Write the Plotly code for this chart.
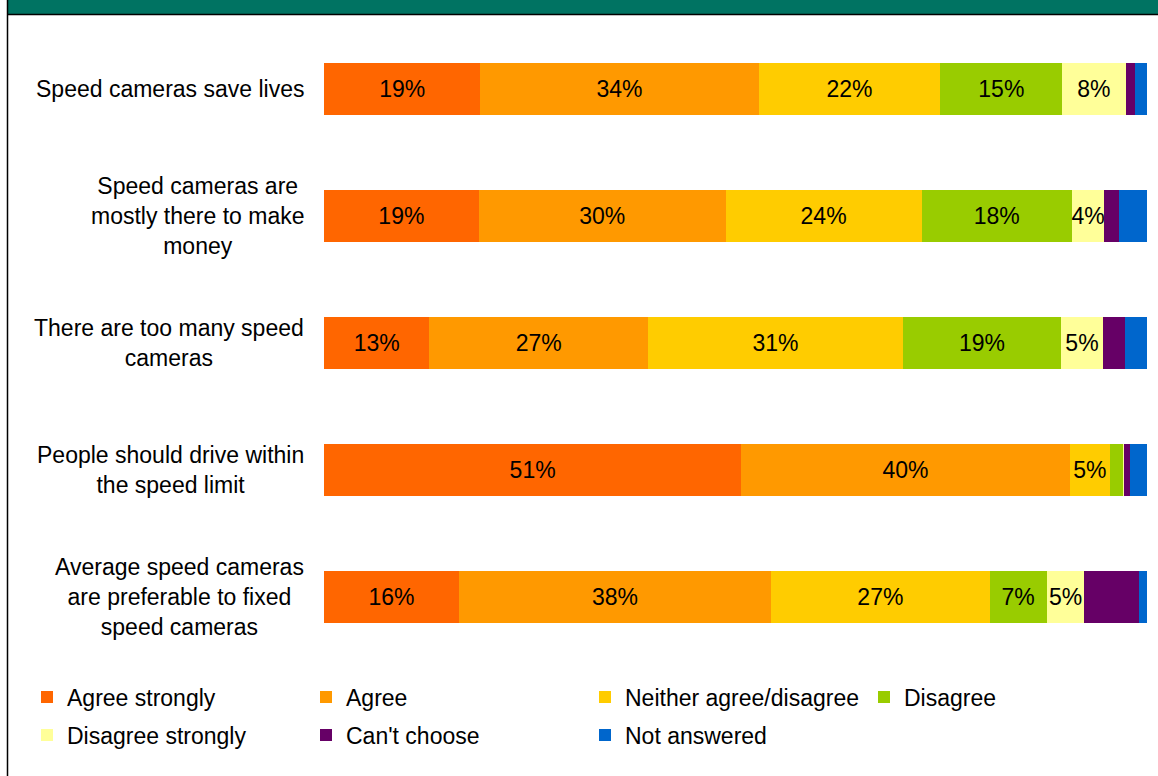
import plotly.graph_objects as go

categories = [
    "Speed cameras save lives",
    "Speed cameras are<br>mostly there to make<br>money",
    "There are too many speed<br>cameras",
    "People should drive within<br>the speed limit",
    "Average speed cameras<br>are preferable to fixed<br>speed cameras",
]

series_names = [
    "Agree strongly",
    "Agree",
    "Neither agree/disagree",
    "Disagree",
    "Disagree strongly",
    "Can't choose",
    "Not answered",
]

agree_strongly = [19.0, 18.8, 12.8, 50.7, 16.4]
agree = [33.8, 30.0, 26.6, 39.9, 37.9]
neither = [22.1, 23.8, 30.9, 4.9, 26.6]
disagree = [14.8, 18.3, 19.3, 1.6, 6.9]
disagree_strongly = [7.7, 3.9, 5.0, 0.1, 4.6]
cant_choose = [1.1, 1.8, 2.7, 0.7, 6.6]
not_answered = [1.5, 3.4, 2.7, 2.1, 1.0]

series_values = [agree_strongly, agree, neither, disagree,
                 disagree_strongly, cant_choose, not_answered]
colors = ["#FF6600", "#FF9900", "#FFCC00", "#99CC00",
          "#FFFF99", "#660066", "#0066CC"]
labelled_series = 5  # only the first five series carry value labels

FONT = "Arial, Liberation Sans, sans-serif"
FS = 23
W, H = 1158, 776
ML, MR, MT, MB = 324, 11, 25, 115
PW, PH = W - ML - MR, H - MT - MB


def px_x(x):
    return (x - ML) / PW


def px_y(y):
    return (H - MB - y) / PH


fig = go.Figure()
for i, (name, vals, col) in enumerate(zip(series_names, series_values, colors)):
    texts = [f"{round(v)}%" if (i < labelled_series and v >= 3.5) else "" for v in vals]
    fig.add_trace(go.Bar(
        y=categories, x=vals, name=name, orientation="h",
        marker=dict(color=col, line=dict(width=0)),
        text=texts, textposition="inside", insidetextanchor="middle",
        textangle=0, textfont=dict(color="black", size=FS, family=FONT),
        hoverinfo="skip",
        legend="legend" if i < 4 else "legend2",
    ))

for cat in categories:
    fig.add_annotation(
        x=0, xref="paper", xshift=-18, xanchor="right",
        y=cat, yref="y", text=cat, showarrow=False, align="center",
        font=dict(size=FS, family=FONT, color="black"),
    )

# frame decorations: teal header band, black rule and left border
fig.add_shape(type="rect", xref="paper", yref="paper",
              x0=px_x(7), x1=px_x(W + 5), y0=px_y(14), y1=px_y(-5),
              fillcolor="#007362", line=dict(width=0), layer="below")
fig.add_shape(type="line", xref="paper", yref="paper",
              x0=px_x(7), x1=px_x(W + 5), y0=px_y(14.5), y1=px_y(14.5),
              line=dict(color="black", width=1.5))
fig.add_shape(type="line", xref="paper", yref="paper",
              x0=px_x(7.5), x1=px_x(7.5), y0=px_y(0), y1=px_y(H + 5),
              line=dict(color="black", width=1.5))

legend_common = dict(
    orientation="h", xanchor="left", yanchor="middle",
    font=dict(size=FS, family=FONT, color="black"),
    entrywidth=234, entrywidthmode="pixels",
    bgcolor="rgba(0,0,0,0)", borderwidth=0, traceorder="normal",
    itemclick=False, itemdoubleclick=False,
)

fig.update_layout(
    width=W, height=H,
    margin=dict(l=ML, r=MR, t=MT, b=MB, pad=0),
    barmode="stack", bargap=0.59,
    plot_bgcolor="white", paper_bgcolor="white",
    font=dict(family=FONT, size=FS, color="black"),
    uniformtext=dict(minsize=FS, mode="show"),
    xaxis=dict(range=[0, 100], visible=False, fixedrange=True),
    yaxis=dict(categoryorder="array", categoryarray=categories,
               autorange="reversed", showticklabels=False,
               showgrid=False, zeroline=False, fixedrange=True),
    legend=dict(x=px_x(27), y=px_y(697), **legend_common),
    legend2=dict(x=px_x(27), y=px_y(735), **legend_common),
    showlegend=True,
)

fig.write_html(
    "out.html",
    config={"displayModeBar": False},
    post_script="document.body.style.margin='0';document.body.style.overflow='hidden';",
)
